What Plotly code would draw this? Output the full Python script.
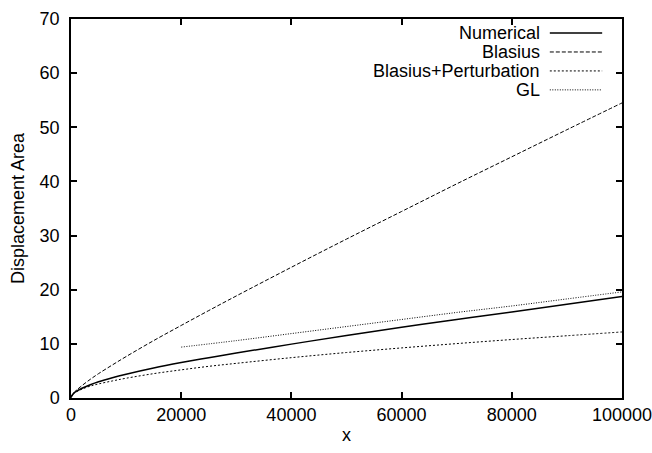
import plotly.graph_objects as go

# ---- data ----
x_vals = [0, 500, 1000, 2000, 3500, 5000, 7500, 10000, 15000, 20000, 25000,
          30000, 40000, 50000, 60000, 70000, 80000, 90000, 100000]
numerical = [0.2, 0.9, 1.25, 1.8, 2.45, 3.0, 3.75, 4.4, 5.55, 6.55, 7.45,
             8.3, 9.95, 11.55, 13.05, 14.5, 15.9, 17.3, 18.75]
blasius = [0.0, 0.95, 1.45, 2.3, 3.45, 4.5, 6.1, 7.65, 10.6, 13.4, 16.15,
           18.85, 24.15, 29.35, 34.45, 39.55, 44.55, 49.55, 54.5]
blasius_pert = [0.2, 0.85, 1.15, 1.65, 2.2, 2.6, 3.15, 3.65, 4.5, 5.2, 5.85,
                6.4, 7.45, 8.4, 9.25, 10.05, 10.8, 11.5, 12.2]
gl_x = [20000, 30000, 40000, 50000, 60000, 70000, 80000, 90000, 100000]
gl = [9.4, 10.6, 11.9, 13.2, 14.5, 15.8, 17.0, 18.3, 19.6]

names = ["Numerical", "Blasius", "Blasius+Perturbation", "GL"]
x_ticks = [0, 20000, 40000, 60000, 80000, 100000]
y_ticks = [0, 10, 20, 30, 40, 50, 60, 70]
x_title = "x"
y_title = "Displacement Area"

FONT = "Liberation Sans, Arial, Helvetica, sans-serif"
FS = 18
styles = [
    dict(color="black", width=1.5, dash="solid"),
    dict(color="black", width=1, dash="4px,2px"),
    dict(color="black", width=1, dash="2px,2px"),
    dict(color="black", width=1, dash="1px,1.5px"),
]
series = [(x_vals, numerical), (x_vals, blasius), (x_vals, blasius_pert), (gl_x, gl)]

fig = go.Figure()
for (xs, ys), nm, st in zip(series, names, styles):
    fig.add_trace(go.Scatter(x=xs, y=ys, mode="lines", name=nm, line=st,
                             line_shape="spline", showlegend=False))

# gnuplot-style key: right-aligned text followed by a line sample
rows_y = [0.963, 0.913, 0.863, 0.813]
for nm, st, yy in zip(names, styles, rows_y):
    fig.add_annotation(x=0.853, y=yy, xref="paper", yref="paper", text=nm,
                       showarrow=False, xanchor="right", yanchor="middle",
                       height=16, borderpad=0,
                       font=dict(family=FONT, size=FS, color="black"))
    fig.add_shape(type="line", xref="paper", yref="paper", x0=0.869, x1=0.964,
                  y0=yy, y1=yy, line=st)

# x-axis title placed like gnuplot's
fig.add_annotation(x=0.5, y=-0.097, xref="paper", yref="paper", text=x_title,
                   showarrow=False, xanchor="center", yanchor="middle",
                   font=dict(family=FONT, size=FS, color="black"))

axis_common = dict(showgrid=False, zeroline=False, showline=True, linecolor="black",
                   linewidth=1.5, mirror="allticks", ticks="inside", ticklen=6,
                   tickwidth=1.5, tickcolor="black", ticklabeloverflow="allow",
                   automargin=False,
                   tickfont=dict(family=FONT, size=FS, color="black"))

fig.update_xaxes(range=[0, 100000], tickvals=x_ticks,
                 ticktext=[str(v) for v in x_ticks],
                 ticklabelstandoff=0, **axis_common)
fig.update_yaxes(range=[0, 70], tickvals=y_ticks,
                 ticktext=[str(v) for v in y_ticks],
                 title=dict(text=y_title,
                            font=dict(family=FONT, size=FS, color="black"),
                            standoff=10),
                 ticklabelstandoff=6, **axis_common)

fig.update_layout(width=652, height=453, margin=dict(l=71, r=30, t=19, b=55),
                  plot_bgcolor="white", paper_bgcolor="white",
                  font=dict(family=FONT, size=FS, color="black"))

fig.write_html("out.html")
